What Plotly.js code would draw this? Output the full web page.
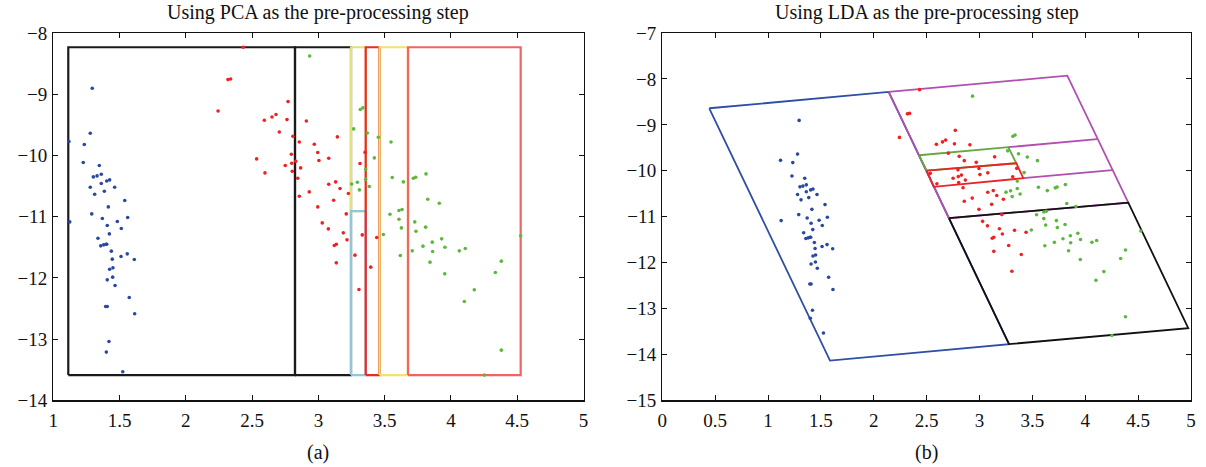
<!DOCTYPE html>
<html>
<head>
<meta charset="utf-8">
<script src="https://cdn.plot.ly/plotly-3.0.1.min.js"></script>
<style>html,body{margin:0;padding:0;background:#fff}#chart{width:1206px;height:467px}</style>
</head>
<body>
<div id="chart"></div>
<script>
// ---- data: projected samples (shared by both panels) ----
const blueX = [1.294,1.279,1.118,1.234,1.226,1.347,1.302,1.330,1.362,1.403,1.425,1.362,1.279,1.463,1.385,1.312,1.539,1.415,1.290,1.370,1.561,1.483,1.124,1.407,1.513,1.423,1.337,1.358,1.380,1.398,1.403,1.438,1.511,1.558,1.445,1.611,1.425,1.450,1.407,1.448,1.466,1.573,1.395,1.407,1.614,1.420,1.400,1.524];
const blueY = [-8.903,-9.637,-9.773,-9.822,-10.115,-10.164,-10.350,-10.334,-10.306,-10.416,-10.399,-10.458,-10.518,-10.518,-10.584,-10.633,-10.736,-10.840,-10.954,-11.029,-11.013,-11.078,-11.085,-11.143,-11.193,-11.281,-11.351,-11.476,-11.460,-11.449,-11.449,-11.563,-11.649,-11.607,-11.693,-11.698,-11.857,-11.835,-12.031,-11.987,-12.123,-12.319,-12.466,-12.466,-12.586,-13.037,-13.211,-13.533];
const redX = [2.433,2.318,2.338,2.243,2.771,2.592,2.650,2.680,2.763,2.909,2.705,2.808,2.856,2.969,3.143,2.995,2.796,3.078,3.004,2.534,2.750,2.799,2.829,2.866,2.597,2.803,2.844,3.078,3.130,3.163,3.226,2.856,2.931,3.115,2.995,3.210,3.029,3.075,3.188,3.216,3.331,3.440,3.120,3.135,3.276,3.135,3.395,3.306,3.314,3.352];
const redY = [-8.233,-8.761,-8.751,-9.273,-9.120,-9.425,-9.371,-9.332,-9.414,-9.436,-9.616,-9.686,-9.779,-9.817,-9.697,-9.952,-9.980,-10.045,-10.083,-10.056,-10.164,-10.127,-10.094,-10.203,-10.285,-10.257,-10.371,-10.469,-10.432,-10.540,-10.621,-10.665,-10.595,-10.731,-10.840,-10.954,-11.101,-11.199,-11.264,-11.378,-11.297,-11.339,-11.470,-11.449,-11.628,-11.754,-11.824,-12.188,-10.132,-9.947];
const greenX = [2.934,3.316,3.336,3.266,3.369,3.452,3.548,3.422,3.357,3.357,3.294,3.251,3.309,3.384,3.557,3.641,3.716,3.734,3.812,3.825,3.912,3.540,3.608,3.631,3.608,3.626,3.727,3.736,3.809,3.490,3.859,3.930,3.789,3.708,3.862,3.955,3.618,4.063,4.108,3.842,4.380,3.953,4.335,4.176,4.101,4.380,4.252,4.526];
const greenY = [-8.375,-9.250,-9.222,-9.566,-9.632,-9.702,-9.779,-10.040,-10.225,-10.388,-10.437,-10.465,-10.562,-10.507,-10.360,-10.432,-10.372,-10.355,-10.301,-10.714,-10.780,-10.959,-10.899,-10.882,-11.041,-11.183,-11.085,-11.237,-11.171,-11.291,-11.416,-11.362,-11.481,-11.558,-11.568,-11.498,-11.633,-11.558,-11.519,-11.742,-11.726,-11.933,-11.911,-12.195,-12.384,-13.179,-13.587,-11.313];

// ---- PCA panel: partition boxes (data units) ----
const pcaBoxX0 = [1.113, 2.8235, 3.246, 3.246, 3.357, 3.462, 3.676];
const pcaBoxX1 = [2.8235, 3.246, 3.357, 3.357, 3.462, 3.676, 4.526];
const pcaBoxY0 = [-13.587, -13.587, -10.910, -13.587, -13.587, -13.587, -13.587];
const pcaBoxY1 = [-8.233, -8.233, -8.233, -10.910, -8.233, -8.233, -8.233];
const pcaBoxColor = ['#1a1a1a', '#1a1a1a', '#e4e07a', '#92c8d6', '#e82a2a', '#f2e36e', '#f06464'];
const pcaRightEdgeColor = [null, null, null, '#c8b8d8', '#d81e1e', '#f0b444', null];

// ---- LDA panel: partition polygons (data units) ----
const ldaPolyX = [
  [0.444, 2.141, 3.279, 1.586, 0.444],
  [2.141, 3.830, 4.407, 2.711, 2.141],
  [3.272, 4.114],
  [3.414, 4.256],
  [2.428, 3.272, 3.348, 2.500, 2.428],
  [2.500, 3.348, 3.414, 2.567, 2.500],
  [2.711, 4.407, 4.974, 3.279, 2.711]
];
const ldaPolyY = [
  [-8.639, -8.284, -13.775, -14.132, -8.639],
  [-8.284, -7.929, -10.693, -11.033, -8.284],
  [-9.487, -9.313],
  [-10.162, -9.988],
  [-9.662, -9.487, -9.836, -9.997, -9.662],
  [-9.997, -9.836, -10.162, -10.351, -9.997],
  [-11.033, -10.693, -13.427, -13.775, -11.033]
];
const ldaPolyColor = ['#2f4ea6', '#b24eb2', '#b24eb2', '#b24eb2', '#62a83c', '#e82424', '#111111'];

const titles = ['Using PCA as the pre-processing step', 'Using LDA as the pre-processing step'];
const subLabels = ['(a)', '(b)'];

// ---- build ----
const traces = [];
for (let i = 0; i < pcaBoxX0.length; i++) {
  const x0 = pcaBoxX0[i], x1 = pcaBoxX1[i], y0 = pcaBoxY0[i], y1 = pcaBoxY1[i];
  traces.push({x:[x0,x1,x1,x0,x0], y:[y0,y0,y1,y1,y0], mode:'lines', xaxis:'x', yaxis:'y',
    line:{color:pcaBoxColor[i], width:2.2}, hoverinfo:'skip', showlegend:false});
  if (pcaRightEdgeColor[i]) {
    traces.push({x:[x1,x1], y:[y0,y1], mode:'lines', xaxis:'x', yaxis:'y',
      line:{color:pcaRightEdgeColor[i], width:2.2}, hoverinfo:'skip', showlegend:false});
  }
}
for (let i = 0; i < ldaPolyX.length; i++) {
  traces.push({x:ldaPolyX[i], y:ldaPolyY[i], mode:'lines', xaxis:'x2', yaxis:'y2',
    line:{color:ldaPolyColor[i], width:1.8}, hoverinfo:'skip', showlegend:false});
}
const groups = [[blueX, blueY, '#2a48a0'], [redX, redY, '#ee2222'], [greenX, greenY, '#5cb83c']];
['x','x2'].forEach((xa, k) => {
  groups.forEach(g => {
    traces.push({x:g[0], y:g[1], mode:'markers', xaxis:xa, yaxis: k ? 'y2' : 'y',
      marker:{color:g[2], size:3.6}, showlegend:false});
  });
});

const serif = 'Liberation Serif';
const tickFont = {family:serif, size:19, color:'#111'};
const titleFont = {family:serif, size:20, color:'#111'};
const axBase = {showgrid:false, zeroline:false, showline:true, linecolor:'#111', linewidth:1.3,
  mirror:'ticks', ticks:'inside', ticklen:5, tickcolor:'#111', tickfont:tickFont, fixedrange:true};
const H = 467, W = 1206;
const yDom = [(H-400.4)/H, (H-33)/H];
const layout = {
  width:W, height:H, margin:{l:0,r:0,t:0,b:0}, paper_bgcolor:'#fff', plot_bgcolor:'#fff',
  font:{family:serif, size:19, color:'#111'},
  xaxis: Object.assign({}, axBase, {domain:[53.3/W, 583.5/W], range:[1,5], dtick:0.5, tick0:1, anchor:'y', ticklabelstandoff:2}),
  yaxis: Object.assign({}, axBase, {domain:yDom, range:[-14,-8], dtick:1, anchor:'x', ticklabelstandoff:1}),
  xaxis2: Object.assign({}, axBase, {domain:[662.3/W, 1191/W], range:[0,5], dtick:0.5, tick0:0, anchor:'y2', ticklabelstandoff:2}),
  yaxis2: Object.assign({}, axBase, {domain:yDom, range:[-15,-7], dtick:1, anchor:'x2', ticklabelstandoff:1}),
  annotations: [
    {text:titles[0], xref:'x domain', x:0.5, yref:'paper', y:(H-13)/H, showarrow:false, font:titleFont, xanchor:'center', yanchor:'middle'},
    {text:titles[1], xref:'x2 domain', x:0.5, yref:'paper', y:(H-13)/H, showarrow:false, font:titleFont, xanchor:'center', yanchor:'middle'},
    {text:subLabels[0], xref:'x domain', x:0.5, yref:'paper', y:(H-452)/H, showarrow:false, font:titleFont, xanchor:'center', yanchor:'middle'},
    {text:subLabels[1], xref:'x2 domain', x:0.5, yref:'paper', y:(H-452)/H, showarrow:false, font:titleFont, xanchor:'center', yanchor:'middle'}
  ]
};
Plotly.newPlot('chart', traces, layout, {displayModeBar:false, staticPlot:true});
</script>
</body>
</html>
